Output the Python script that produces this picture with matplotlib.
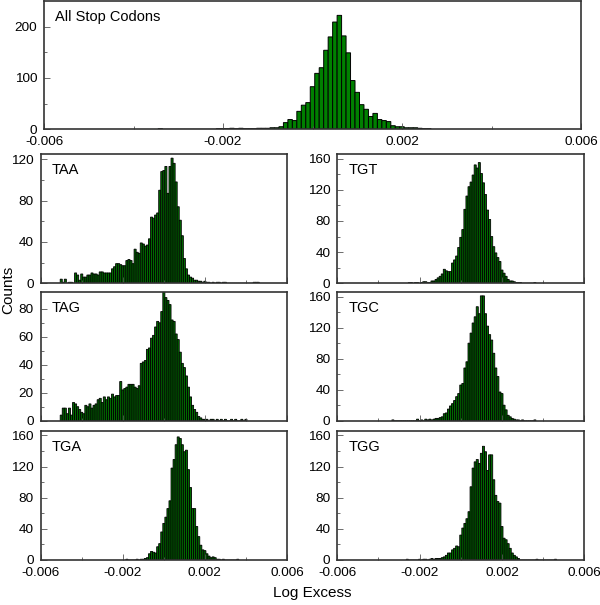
import numpy as np
import matplotlib
matplotlib.use("Agg")
import matplotlib.pyplot as plt
from matplotlib.ticker import FixedLocator, FixedFormatter

plt.rcParams['font.family'] = ['Liberation Sans', 'DejaVu Sans']

BIN = 0.0001

# histogram counts, one value per 0.0001 bin, starting at the given bin centre
all_start = -0.0034
all_counts = [1, 0, 0, 0, 0, 0, 0, 0, 0, 0, 0, 0, 0,
              1, 1, 1, 2, 1, 2, 1, 1, 1, 2, 2, 2, 3, 3, 5,
              13, 19, 17, 35, 47, 52, 83, 109, 120, 154, 180, 209, 222, 182, 149, 95,
              72, 48, 39, 25, 31, 19, 17, 15, 7, 5, 5, 3, 3, 3, 2, 1, 1]

taa_start = -0.0050
taa_counts = [4, 1, 4, 0, 1, 1, 0, 10, 8, 3,
              9, 6, 6, 8, 8, 10, 9, 9, 8, 11,
              11, 10, 10, 10, 10, 14, 16, 19, 19, 18,
              17, 17, 22, 23, 22, 19, 33, 30, 29, 39,
              38, 36, 37, 43, 64, 63, 66, 68, 90, 108,
              109, 113, 87, 113, 121, 116, 98, 74, 61, 46,
              24, 14, 8, 6, 5, 3, 3, 2, 2, 1,
              2, 1, 1, 0, 1, 0, 1, 1, 0, 1,
              1, 0, 0, 0, 0, 0, 0, 0, 0, 0,
              0, 0, 0, 0, 1, 1, 1]

tag_start = -0.0050
tag_counts = [4, 9, 9, 5, 9, 4, 13, 12, 10, 8,
              6, 5, 11, 10, 12, 9, 11, 12, 15, 16,
              13, 17, 15, 17, 16, 19, 17, 18, 18, 28,
              22, 23, 24, 26, 26, 26, 24, 23, 25, 41,
              42, 43, 51, 52, 59, 61, 67, 71, 70, 78,
              93, 88, 86, 83, 72, 71, 62, 58, 49, 41,
              38, 32, 24, 17, 11, 8, 6, 3, 2, 1,
              1, 1, 0, 1, 1, 0, 1, 0, 1, 0,
              1, 0, 0, 1, 0, 1, 0, 0, 1, 0, 1]

tga_start = -0.0018
tga_counts = [1, 0, 0, 0, 0, 1, 0, 1, 1, 2,
              3, 8, 11, 10, 9, 17, 21, 36, 47, 55,
              66, 76, 118, 129, 148, 158, 156, 148, 139, 141,
              116, 93, 66, 66, 43, 30, 19, 13, 12, 8,
              5, 3, 4, 3, 1, 1, 0, 1, 0, 0,
              0, 0, 0, 0, 1]

tgt_start = -0.0025
tgt_counts = [1, 1, 0, 1, 1, 0,
              1, 2, 2, 1, 1, 3, 3, 5, 7, 9,
              12, 18, 16, 15, 15, 26, 30, 35, 46, 59,
              69, 95, 112, 124, 130, 139, 152, 148, 155, 141,
              129, 114, 94, 82, 60, 47, 39, 33, 28, 17,
              13, 9, 5, 3, 3, 2, 1, 1, 1, 0,
              0, 0, 0, 0, 0, 1]

tgc_start = -0.0033
tgc_counts = [1, 0, 0, 0, 0, 0, 0, 0, 0, 0, 0, 0,
              2, 0, 1, 0, 2, 1, 2, 1, 2, 3,
              3, 4, 5, 9, 10, 15, 19, 22, 26, 31,
              35, 46, 48, 68, 76, 100, 113, 126, 134, 147,
              138, 161, 161, 138, 122, 111, 104, 87, 68, 57,
              37, 35, 20, 14, 7, 5, 3, 2, 1, 1,
              0, 1, 0, 0, 0, 0, 0, 1]

tgg_start = -0.0026
tgg_counts = [1, 0, 0, 0, 0, 0,
              1, 0, 1, 1, 0, 1, 2, 1, 2, 2,
              2, 3, 4, 6, 9, 9, 13, 15, 18, 17,
              32, 41, 47, 53, 62, 94, 118, 126, 129, 124,
              137, 146, 139, 115, 135, 135, 103, 83, 75, 73,
              43, 28, 26, 21, 15, 9, 6, 4, 2, 0,
              0, 0, 0, 0, 0, 0, 0, 1, 0, 0,
              0, 0, 0, 0, 0, 0, 1]

x_major = [-0.006, -0.002, 0.002, 0.006]
x_labels = ['-0.006', '-0.002', '0.002', '0.006']
x_minor = [-0.004, 0.0, 0.004]

W, H = 600, 605
fig = plt.figure(figsize=(W / 100, H / 100), dpi=100)


def rect(l, t, r, b):
    return [l / W, 1 - b / H, (r - l) / W, (b - t) / H]


def panel(box, start, counts, label, ymax, ymajor, yminor, xlabels,
          lx=0.045, face='#006a00', lw=0.6):
    ax = fig.add_axes(rect(*box))
    x = start + BIN * np.arange(len(counts))
    ax.bar(x, counts, width=BIN, color=face, edgecolor='black',
           linewidth=lw, align='center', snap=False)
    ax.set_xlim(-0.006, 0.006)
    ax.set_ylim(0, ymax)
    ax.xaxis.set_major_locator(FixedLocator(x_major))
    ax.xaxis.set_minor_locator(FixedLocator(x_minor))
    if xlabels:
        ax.xaxis.set_major_formatter(FixedFormatter(x_labels))
    else:
        ax.set_xticklabels([])
    ax.yaxis.set_major_locator(FixedLocator(ymajor))
    ax.yaxis.set_minor_locator(FixedLocator(yminor))
    ax.tick_params(which='both', direction='in', color='#555555', width=0.6,
                   labelsize=9.7)
    ax.tick_params(which='major', length=4)
    ax.tick_params(which='minor', length=2.5)
    ax.tick_params(axis='y', pad=5)
    ax.tick_params(axis='x', pad=5)
    for s in ax.spines.values():
        s.set_color('#333333')
        s.set_linewidth(1.2)
    ax.text(lx, 0.93, label, transform=ax.transAxes, fontsize=10.5,
            ha='left', va='top')
    return ax


left_col = (40.7, 287)
right_col = (337.3, 584.3)
rows = [(154, 283.3), (292, 420.7), (430.7, 560)]
y160 = [0, 40, 80, 120, 160]
y160m = [20, 60, 100, 140]

panel((44, 1, 581, 129.3), all_start, all_counts, 'All Stop Codons',
      250, [0, 100, 200], [50, 150], True, lx=0.02, face='#008000', lw=0.7)

panel((left_col[0], rows[0][0], left_col[1], rows[0][1]), taa_start, taa_counts,
      'TAA', 125, [0, 40, 80, 120], [20, 60, 100], False)
panel((left_col[0], rows[1][0], left_col[1], rows[1][1]), tag_start, tag_counts,
      'TAG', 92, [0, 20, 40, 60, 80], [10, 30, 50, 70], False)
panel((left_col[0], rows[2][0], left_col[1], rows[2][1]), tga_start, tga_counts,
      'TGA', 166, y160, y160m, True)
panel((right_col[0], rows[0][0], right_col[1], rows[0][1]), tgt_start, tgt_counts,
      'TGT', 166, y160, y160m, False)
panel((right_col[0], rows[1][0], right_col[1], rows[1][1]), tgc_start, tgc_counts,
      'TGC', 166, y160, y160m, False)
panel((right_col[0], rows[2][0], right_col[1], rows[2][1]), tgg_start, tgg_counts,
      'TGG', 166, y160, y160m, True)

fig.text(8 / W, 1 - 290 / H, 'Counts', rotation=90, ha='center', va='center',
         fontsize=11)
fig.text(312 / W, 1 - 593 / H, 'Log Excess', ha='center', va='center',
         fontsize=11)

fig.savefig('out.png', dpi=100)
